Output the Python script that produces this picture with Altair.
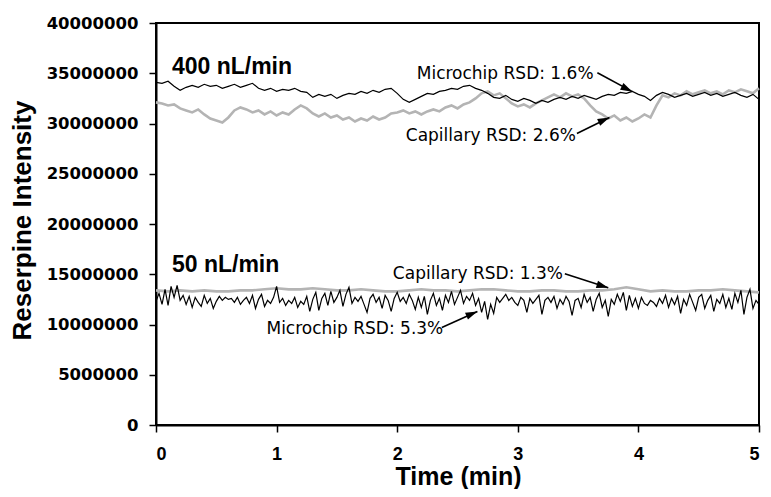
import altair as alt
import pandas as pd

# ---- data (intensities in millions of counts) ----
# 400 nL/min, sampled every 0.05 min
microchip_400 = [
    34.1, 34.0, 34.2, 33.7, 33.3, 33.6, 33.8, 33.6, 33.9, 33.7,
    33.8, 33.5, 33.7, 33.9, 33.6, 33.8, 34.0, 33.5, 33.3, 33.5,
    33.2, 33.4, 33.3, 33.5, 33.2, 33.1, 32.6, 32.9, 32.7, 32.9,
    32.5, 32.8, 33.0, 32.9, 33.2, 33.0, 33.3, 33.1, 33.4, 33.5,
    33.0, 32.4, 32.1, 32.4, 32.7, 33.0, 32.9, 33.2, 33.3, 33.5,
    33.4, 33.7, 33.8, 33.5, 33.3, 33.0, 32.6, 32.5, 32.8, 32.4,
    32.2, 32.5, 32.3, 32.0, 32.3, 32.1, 32.4, 32.6, 32.4, 32.7,
    32.5, 32.8, 32.6, 32.4, 32.7, 32.9, 32.8, 33.1, 33.0, 33.2,
    32.9, 32.7, 32.3, 32.8, 33.1, 32.9, 32.6, 32.8, 33.0, 32.7,
    32.9, 33.1, 32.8, 33.0, 32.7, 32.9, 33.1, 32.8, 32.6, 32.9,
    32.4,
]
capillary_400 = [
    32.1, 32.0, 31.8, 31.9, 31.5, 31.3, 31.1, 31.4, 30.9, 30.5,
    30.3, 30.1, 30.6, 31.3, 31.6, 31.4, 31.1, 31.3, 30.9, 31.2,
    30.8, 31.1, 30.9, 31.4, 31.8, 31.5, 31.0, 30.7, 31.0, 30.6,
    30.8, 30.4, 30.6, 30.2, 30.5, 30.3, 30.7, 30.4, 30.6, 31.0,
    31.1, 31.3, 31.0, 31.2, 30.9, 31.2, 31.4, 31.2, 31.6, 31.8,
    31.5, 31.9, 32.1, 32.5, 33.0, 33.2, 32.8, 33.0, 32.5, 32.0,
    31.7, 31.9, 31.6, 32.0, 32.3, 32.6, 32.9, 32.6, 33.0, 32.7,
    32.9, 32.5, 31.8, 31.2, 30.9, 30.5, 30.8, 30.3, 30.6, 30.2,
    30.5, 30.9, 30.6, 31.8, 32.8, 32.6, 33.0, 32.8, 33.2, 32.9,
    33.1, 33.3, 33.0, 33.2, 32.9, 33.3, 33.1, 33.4, 33.2, 33.0,
    33.5,
]
# 50 nL/min microchip, sampled every 0.025 min
microchip_50 = [
    12.3, 13.1, 12.0, 13.5, 11.9, 13.8, 12.7, 13.9, 12.4, 12.9,
    12.0, 12.8, 11.7, 12.7, 12.2, 11.8, 12.9, 12.1, 12.6, 11.6,
    12.3, 12.8, 12.4, 12.7, 12.5, 12.6, 12.2, 12.7, 12.0, 12.4,
    12.7, 12.1, 12.9, 11.6, 12.5, 13.0, 11.8, 12.4, 12.1, 12.7,
    13.8, 12.2, 12.6, 11.9, 12.4, 12.1, 12.7, 11.7, 12.3, 12.0,
    12.8, 11.3, 12.5, 13.2, 11.4, 12.6, 13.1, 11.9, 13.3, 12.2,
    12.7, 13.4, 11.8, 13.0, 13.7, 12.1, 12.7, 12.3, 12.8, 12.0,
    11.2, 12.6, 13.0, 12.2, 12.7, 11.6, 12.9, 12.4, 11.3, 12.6,
    13.2, 12.3, 12.7, 12.1, 13.0, 12.4, 11.5, 12.7, 11.7, 12.8,
    11.0, 12.4, 13.1, 11.9, 12.6, 11.4, 12.9, 12.2, 13.3, 12.0,
    12.7, 13.4, 12.1, 12.8, 12.4, 13.1, 11.9, 12.6, 11.2, 12.3,
    10.5, 12.0, 11.1, 12.7, 12.2, 12.6, 13.0, 12.4, 12.7, 12.2,
    11.9, 12.7, 12.4, 11.2, 12.6, 12.1, 12.5, 12.9, 11.0, 12.4,
    12.7, 12.2, 12.8, 11.6, 12.5, 12.0, 12.8, 12.3, 10.9, 12.4,
    12.6, 11.7, 13.0, 12.2, 12.7, 11.3, 12.5, 13.1, 11.7, 12.4,
    10.8, 12.5, 12.0, 13.0, 12.3, 13.2, 11.4, 12.9, 11.8, 12.6,
    11.6, 12.7, 12.1, 11.9, 12.4, 12.2, 11.8, 12.6, 12.1, 12.9,
    11.7, 12.6, 12.0, 12.8, 11.1, 12.5, 11.9, 13.0, 12.2, 11.4,
    12.7, 13.0, 11.6, 12.4, 12.9, 11.3, 12.5, 12.1, 13.0, 11.7,
    12.6, 11.5, 13.1, 12.2, 13.4, 11.0, 12.7, 13.5, 11.6, 12.4,
    12.0,
]
# 50 nL/min capillary, sampled every 0.1 min
capillary_50 = [
    13.4, 13.3, 13.4, 13.3, 13.4, 13.3, 13.3, 13.4, 13.4, 13.5,
    13.6, 13.5, 13.5, 13.6, 13.5, 13.4, 13.4, 13.5, 13.4, 13.3,
    13.3, 13.4, 13.5, 13.4, 13.4, 13.3, 13.4, 13.5, 13.5, 13.4,
    13.3, 13.3, 13.4, 13.4, 13.3, 13.3, 13.4, 13.4, 13.5, 13.7,
    13.5, 13.3, 13.4, 13.3, 13.3, 13.4, 13.4, 13.5, 13.4, 13.3,
    13.2,
]

x_ticks = [0, 1, 2, 3, 4, 5]
y_ticks = [0, 5e6, 10e6, 15e6, 20e6, 25e6, 30e6, 35e6, 40e6]

flow_labels = ["400 nL/min", "50 nL/min"]
flow_t = [0.132, 0.132]
flow_v = [34.95e6, 15.25e6]

note_text = ["Microchip RSD: 1.6%", "Capillary RSD: 2.6%",
             "Capillary RSD: 1.3%", "Microchip RSD: 5.3%"]
note_t = [2.162, 2.071, 1.964, 0.916]
note_v = [34.46e6, 28.22e6, 14.55e6, 9.01e6]

arrow_t = [3.66, 3.49, 3.39, 2.37]
arrow_v = [35.05e6, 29.01e6, 15.05e6, 9.70e6]
arrow_t2 = [3.95, 3.76, 3.75, 2.665]
arrow_v2 = [33.17e6, 30.59e6, 13.66e6, 11.29e6]
arrow_ang = [116, 66, 106.6, 67.2]


def series(vals, step):
    return pd.DataFrame({"t": [round(i * step, 4) for i in range(len(vals))],
                         "v": [x * 1e6 for x in vals]})


xenc = alt.X("t:Q", scale=alt.Scale(domain=[0, 5], nice=False, zero=False),
             axis=alt.Axis(values=x_ticks, format="d", title="Time (min)",
                           labelFont="Liberation Sans", labelFontSize=18,
                           labelFontWeight="bold", labelPadding=13,
                           titleFont="Liberation Sans", titleFontSize=25,
                           titleFontWeight="bold", titleX=302, titleY=59,
                           titleBaseline="alphabetic"))
yenc = alt.Y("v:Q", scale=alt.Scale(domain=[0, 40e6], nice=False),
             axis=alt.Axis(values=y_ticks, format="d", title="Reserpine Intensity",
                           labelFont="DejaVu Sans", labelFontSize=16.5,
                           labelFontWeight="bold", labelPadding=11,
                           titleFont="Liberation Sans", titleFontSize=26,
                           titleFontWeight="bold", titleX=-134, titleY=197,
                           titleBaseline="middle"))

grey = "#b4b4b4"
l_cap400 = alt.Chart(series(capillary_400, 0.05)).mark_line(
    color=grey, strokeWidth=2.6).encode(x=xenc, y=yenc)
l_cap50 = alt.Chart(series(capillary_50, 0.1)).mark_line(
    color=grey, strokeWidth=2.6).encode(x=xenc, y=yenc)
l_mc400 = alt.Chart(series(microchip_400, 0.05)).mark_line(
    color="black", strokeWidth=1.2).encode(x=xenc, y=yenc)
l_mc50 = alt.Chart(series(microchip_50, 0.025)).mark_line(
    color="black", strokeWidth=1.2).encode(x=xenc, y=yenc)

flow_df = pd.DataFrame({"t": flow_t, "v": flow_v, "label": flow_labels})
flow = alt.Chart(flow_df).mark_text(
    align="left", baseline="alphabetic", font="Liberation Sans",
    fontSize=23, fontWeight="bold", color="black").encode(
    x="t:Q", y="v:Q", text="label:N")

note_df = pd.DataFrame({"t": note_t, "v": note_v, "label": note_text})
notes = alt.Chart(note_df).mark_text(
    align="left", baseline="alphabetic", font="DejaVu Sans",
    fontSize=17, color="black").encode(x="t:Q", y="v:Q", text="label:N")

arrow_df = pd.DataFrame({"t": arrow_t, "v": arrow_v, "t2": arrow_t2,
                         "v2": arrow_v2, "ang": arrow_ang})
shafts = alt.Chart(arrow_df).mark_rule(color="black", strokeWidth=1.6).encode(
    x="t:Q", y="v:Q", x2="t2:Q", y2="v2:Q")
heads = alt.Chart(arrow_df).mark_point(
    shape="M0,0L0.32,1L-0.32,1Z", filled=True, size=560, color="black",
    opacity=1, strokeWidth=0).encode(
    x="t2:Q", y="v2:Q", angle=alt.Angle("ang:Q", scale=None))

chart = alt.layer(l_cap400, l_cap50, l_mc400, l_mc50, flow, notes, shafts, heads).properties(
    width=603, height=402,
    autosize=alt.AutoSizeParams(type="none"),
    padding={"left": 148, "top": 15, "right": 4, "bottom": 64},
).configure_view(stroke="black", strokeWidth=2).configure_axis(
    grid=False, domainColor="black", domainWidth=2, tickColor="black",
    tickWidth=1.5, tickSize=7, labelColor="black", titleColor="black")

chart.save("out.html", embed_options={"renderer": "svg", "actions": False})
